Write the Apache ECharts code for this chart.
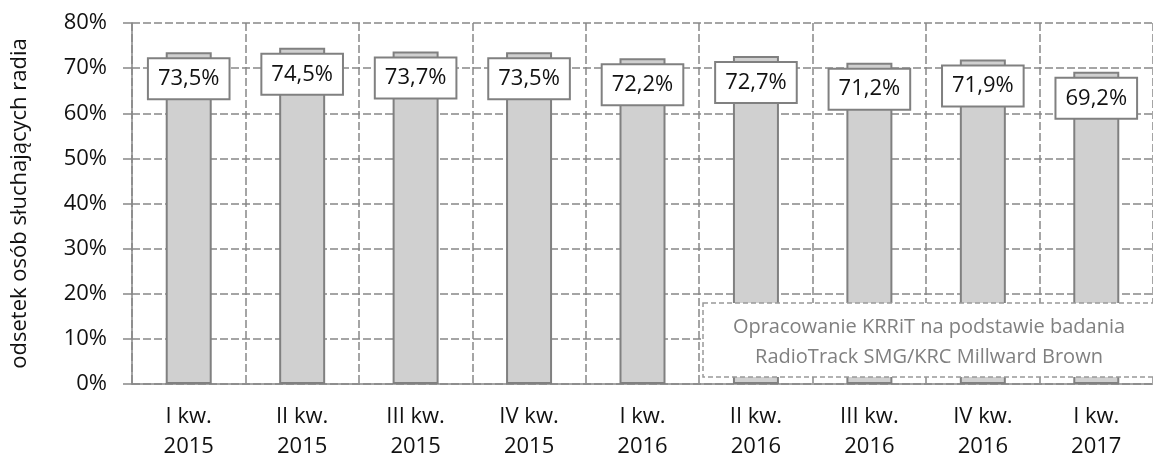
<!DOCTYPE html>
<html lang="pl">
<head>
  <meta charset="UTF-8">
  <title>Słuchalność radia</title>
  <script src="https://cdn.jsdelivr.net/npm/echarts@6/dist/echarts.min.js"></script>
  <style>
    body { margin: 0; background: #fff; }
    #main { width: 1153px; height: 462px; }
  </style>
</head>
<body>
  <div id="main"></div>
  <script>
    // kwartały
    var quarters = ['I kw.\n2015', 'II kw.\n2015', 'III kw.\n2015', 'IV kw.\n2015',
                    'I kw.\n2016', 'II kw.\n2016', 'III kw.\n2016', 'IV kw.\n2016', 'I kw.\n2017'];
    // odsetek słuchających (%)
    var listeners = [73.5, 74.5, 73.7, 73.5, 72.2, 72.7, 71.2, 71.9, 69.2];
    var sourceLines = ['Opracowanie KRRiT na podstawie badania', 'RadioTrack SMG/KRC Millward Brown'];

    var font = '"Open Sans", sans-serif';
    var gray = '#888';

    var chart = echarts.init(document.getElementById('main'));

    var option = {
      animation: false,
      textStyle: { fontFamily: font },
      grid: { left: 132, top: 23, width: 1035, height: 362 },
      xAxis: {
        type: 'category',
        data: quarters,
        axisLine: { lineStyle: { color: gray, width: 1.5 } },
        axisTick: { length: 8, lineStyle: { color: gray, width: 1.5 } },
        axisLabel: { color: '#111', fontSize: 22, lineHeight: 30, margin: 18, fontFamily: font },
        splitLine: { show: true, lineStyle: { color: gray, width: 1.5, type: [8, 3] } }
      },
      yAxis: {
        type: 'value',
        min: 0, max: 80, interval: 10,
        name: 'odsetek osób słuchających radia',
        nameLocation: 'middle',
        nameGap: 101,
        nameTextStyle: { color: '#111', fontSize: 22, fontFamily: font },
        axisLine: { show: true, lineStyle: { color: gray, width: 1.5 } },
        axisTick: { show: true, length: 9, lineStyle: { color: gray, width: 1.5 } },
        axisLabel: { color: '#111', fontSize: 22, margin: 25, formatter: '{value}%', fontFamily: font },
        splitLine: { lineStyle: { color: gray, width: 1.5, type: [8, 3] } }
      },
      series: [{
        type: 'bar',
        data: listeners,
        barWidth: 46,
        itemStyle: { color: '#d0d0d0', borderColor: '#808080', borderWidth: 2 },
        label: {
          show: true,
          position: 'insideTop',
          distance: 7,
          formatter: function (p) { return p.value.toFixed(1).replace('.', ',') + '%'; },
          color: '#111',
          fontSize: 22,
          fontFamily: font,
          lineHeight: 27,
          backgroundColor: '#fff',
          borderColor: '#808080',
          borderWidth: 2,
          padding: [6, 9]
        }
      }],
      graphic: [
        {
          type: 'rect',
          z: 100,
          shape: { x: 703, y: 303, width: 452, height: 74 },
          style: { fill: '#fff', stroke: '#999', lineWidth: 1.5, lineDash: [5, 3] }
        },
        {
          type: 'text',
          z: 101,
          style: { x: 929, y: 327, text: sourceLines[0], textAlign: 'center', textVerticalAlign: 'middle',
                   fill: '#808080', font: '20px ' + font }
        },
        {
          type: 'text',
          z: 101,
          style: { x: 929, y: 357, text: sourceLines[1], textAlign: 'center', textVerticalAlign: 'middle',
                   fill: '#808080', font: '20px ' + font }
        }
      ]
    };

    chart.setOption(option);
  </script>
</body>
</html>
